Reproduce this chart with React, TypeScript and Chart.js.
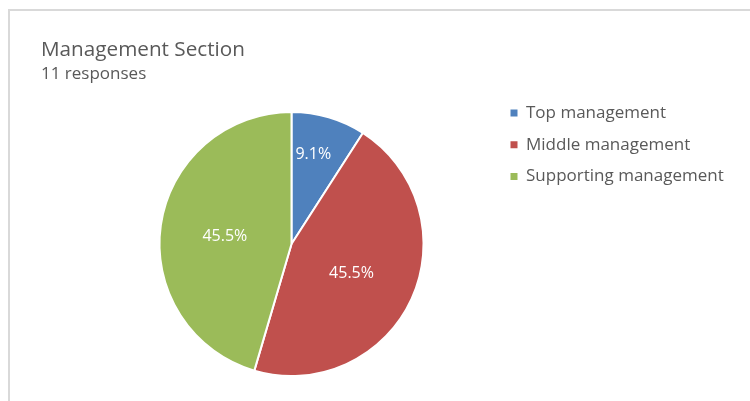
import React, { useEffect, useRef } from "react";
import { Chart, registerables } from "chart.js";

Chart.register(...registerables);

const titleText = "Management Section";
const subtitleText = "11 responses";
const categories = ["Top management", "Middle management", "Supporting management"];
const responses = [1, 5, 5];
const sliceColors = ["#4F81BD", "#C0504D", "#9BBB59"];

const FONT = "'Open Sans', Lato, sans-serif";
const TEXT_GRAY = "#595959";

// label placement: [fraction along the slice angle, fraction of radius]
const labelAngleFrac = [0.41, 0.5, 0.5];
const labelRadiusFrac = [0.71, 0.5, 0.51];

const LEGEND_FONT = 17;
const LEGEND_PAD = 14.7;

const layoutPlugin = {
  id: "fixLayout",
  afterLayout(chart: any) {
    const cx = 291.5;
    const cy = 244;
    const half = 133;
    chart.chartArea = {
      left: cx - half,
      top: cy - half,
      right: cx + half,
      bottom: cy + half,
      width: half * 2,
      height: half * 2,
    };
    const lg = chart.legend;
    if (lg) {
      const w = lg.width;
      const h = lg.height;
      lg.left = 510.5 - LEGEND_PAD;
      lg.top = 113 - LEGEND_FONT / 2 - LEGEND_PAD;
      lg.right = lg.left + w;
      lg.bottom = lg.top + h + 20;
      lg.height = h + 20;
    }
  },
};

const labelPlugin = {
  id: "sliceLabels",
  afterDatasetsDraw(chart: any) {
    const ctx = chart.ctx;
    const meta = chart.getDatasetMeta(0);
    const values: number[] = chart.data.datasets[0].data;
    const total = values.reduce((a, b) => a + b, 0);
    ctx.save();
    ctx.fillStyle = "#ffffff";
    ctx.font = `16px ${FONT}`;
    ctx.textAlign = "center";
    ctx.textBaseline = "middle";
    meta.data.forEach((arc: any, i: number) => {
      const p = arc.getProps(["x", "y", "startAngle", "endAngle", "outerRadius"], true);
      const a = p.startAngle + labelAngleFrac[i] * (p.endAngle - p.startAngle);
      const r = p.outerRadius * labelRadiusFrac[i];
      const tx = p.x + Math.cos(a) * r;
      const ty = p.y + Math.sin(a) * r + 2;
      ctx.fillText(((values[i] / total) * 100).toFixed(1) + "%", tx, ty);
    });
    ctx.restore();
  },
};

export default function App() {
  const ref = useRef<HTMLCanvasElement | null>(null);
  useEffect(() => {
    if (!ref.current) return;
    const chart = new Chart(ref.current, {
      type: "pie",
      data: {
        labels: categories,
        datasets: [
          {
            data: responses,
            backgroundColor: sliceColors,
            borderColor: "#ffffff",
            borderWidth: 2,
          },
        ],
      },
      options: {
        responsive: false,
        animation: false,
        layout: { padding: { left: 41, top: 38, right: 10, bottom: 10 } },
        plugins: {
          tooltip: { enabled: false },
          title: {
            display: true,
            text: titleText,
            align: "start",
            color: TEXT_GRAY,
            font: { family: FONT, size: 20.7, weight: "normal" },
            padding: { top: 0, bottom: 0 },
          },
          subtitle: {
            display: true,
            text: subtitleText,
            align: "start",
            color: TEXT_GRAY,
            font: { family: FONT, size: 17, weight: "normal" },
            padding: { top: 1, bottom: 0 },
          },
          legend: {
            position: "right",
            align: "start",
            labels: {
              boxWidth: 7,
              boxHeight: 7,
              padding: LEGEND_PAD,
              color: TEXT_GRAY,
              font: { family: FONT, size: LEGEND_FONT },
              generateLabels: (c: any) => {
                const base = (Chart as any).overrides.doughnut.plugins.legend.labels.generateLabels(c);
                return base.map((l: any) => ({ ...l, lineWidth: 0, fontColor: TEXT_GRAY }));
              },
            },
          },
        },
      },
      plugins: [layoutPlugin, labelPlugin],
    });
    return () => chart.destroy();
  }, []);

  return (
    <div
      style={{
        position: "fixed",
        left: 0,
        top: 0,
        width: 750,
        height: 401,
        overflow: "hidden",
        background: "#ffffff",
      }}
    >
      <div
        style={{
          position: "absolute",
          left: 8,
          top: 9,
          width: 900,
          height: 600,
          borderLeft: "2px solid #d9d9d9",
          borderTop: "2px solid #d9d9d9",
        }}
      />
      <canvas
        ref={ref}
        width={750}
        height={401}
        style={{ position: "absolute", left: 0, top: 0, width: 750, height: 401 }}
      />
    </div>
  );
}
